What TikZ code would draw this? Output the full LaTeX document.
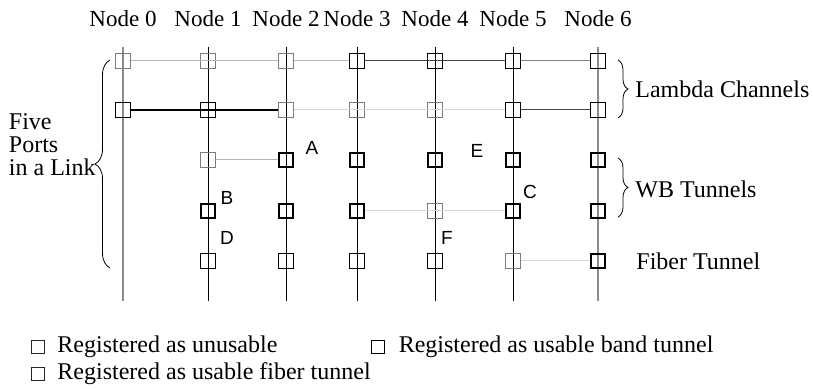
\documentclass[tikz,border=0pt]{standalone}
\usepackage{fontspec}
\setmainfont{Liberation Serif}
\newfontfamily\lblfont{Liberation Sans}
\usetikzlibrary{positioning, decorations.pathreplacing, calc}
\definecolor{PortGray}{RGB}{125,125,125}
\definecolor{LinkFaint}{RGB}{215,215,215}
\definecolor{LinkLight}{RGB}{180,180,180}
\definecolor{LinkDark}{RGB}{70,70,70}

\begin{document}
\begin{tikzpicture}[x=0.5pt, y=-0.5pt,
          port/.style={rectangle, minimum size=7.2pt, inner sep=0pt},
          unus/.style={port, draw=PortGray, line width=0.55pt},
          lam/.style={port, draw=black, line width=0.65pt},
          band/.style={port, draw=black, line width=1.1pt},
          fib/.style={port, draw=black, line width=0.4pt},
          key/.style={port, minimum size=6.6pt, draw=black!85, line width=0.45pt},
          lnk/.style={line width=0.5pt},
          txt/.style={font=\fontsize{12}{11.5}\selectfont, inner sep=0pt},
          tag/.style={font=\lblfont\fontsize{9.5}{11}\selectfont, inner sep=0pt},
          brc/.style={decorate, line width=0.4pt}
        ]
        \useasboundingbox (0,0) rectangle (813,389);

        % node columns
        \foreach \i/\x/\col/\w in {0/123/gray!90/0.75pt, 1/208/black/0.5pt,
            2/286/black/0.5pt, 3/357/black/0.5pt, 4/435/black/0.5pt,
            5/513/black/0.5pt, 6/598/gray!90/0.75pt} {
          \node[font=\fontsize{11.5}{13}\selectfont, inner sep=0pt] (nd\i) at (\x, 19) {Node \i};
          \coordinate (top\i) at (\x, 47);
          \coordinate (bot\i) at (\x, 301);
          \draw[\col, line width=\w] (top\i) -- (bot\i);
        }

        % ports: column/row/state
        \foreach \c/\r/\s in {
          0/1/unus, 1/1/unus, 2/1/unus, 3/1/lam, 4/1/lam, 5/1/lam, 6/1/lam,
          0/2/lam, 1/2/lam, 2/2/unus, 3/2/unus, 4/2/unus, 5/2/lam, 6/2/lam,
          1/3/unus, 2/3/band, 3/3/band, 4/3/band, 5/3/band, 6/3/band,
          1/4/band, 2/4/band, 3/4/band, 4/4/unus, 5/4/band, 6/4/band,
          1/5/fib, 2/5/fib, 3/5/fib, 4/5/fib, 5/5/unus, 6/5/band} {
          \pgfmathsetmacro\yy{{61,110,160,211,261}[\r-1]}
          \node[\s] (p\c-\r) at (top\c |- 0,\yy) {};
        }

        % links between ports
        \draw[lnk, LinkLight] (p0-1) -- (p2-1);
        \draw[lnk, LinkLight] (p2-1) -- (p3-1);
        \draw[lnk, LinkDark] (p3-1) -- (p5-1);
        \draw[lnk, gray] (p5-1) -- (p6-1);
        \draw[black, line width=0.75pt] (p0-2) -- (p2-2);
        \draw[lnk, LinkFaint] (p2-2) -- (p5-2);
        \draw[lnk, LinkDark] (p5-2) -- (p6-2);
        \draw[lnk, LinkLight] (p1-3) -- (p2-3);
        \draw[lnk, LinkFaint] (p3-4) -- (p5-4);
        \draw[lnk, LinkFaint] (p5-5) -- (p6-5);

        % letters
        \node[tag] (la) at (312, 148) {A};
        \node[tag] (lb) at (227, 198) {B};
        \node[tag] (lc) at (530, 192) {C};
        \node[tag] (ld) at (227, 238) {D};
        \node[tag] (le) at (477, 151) {E};
        \node[tag] (lf) at (447, 238) {F};

        % braces
        \coordinate (fpa) at (110, 268);
        \coordinate (fpb) at (110, 60);
        \draw[brc, decoration={brace, amplitude=7.5pt}] (fpa) -- (fpb);
        \node[txt, anchor=east, align=left] (five) at (96, 145) {Five\\Ports\\in a Link};
        \coordinate (lca) at (618, 60);
        \coordinate (lcb) at (618, 118);
        \draw[brc, decoration={brace, amplitude=5pt}] (lca) -- (lcb);
        \node[txt, anchor=west] (lamb) at (635, 89) {Lambda Channels};
        \coordinate (wba) at (618, 158);
        \coordinate (wbb) at (618, 217);
        \draw[brc, decoration={brace, amplitude=5pt}] (wba) -- (wbb);
        \node[txt, anchor=west] (wbt) at (635, 189) {WB Tunnels};
        \node[txt, anchor=west] (fbt) at (636, 261) {Fiber Tunnel};

        % legend
        \node[key] (lg1) at (38, 347) {};
        \node[txt, right=6pt of lg1] (lgt1) {Registered as unusable};
        \node[key, line width=0.8pt, draw=black] (lg2) at (378, 347) {};
        \node[txt, right=6.5pt of lg2] (lgt2) {Registered as usable band tunnel};
        \node[key] (lg3) at (38, 374) {};
        \node[txt, right=6pt of lg3] (lgt3) {Registered as usable fiber tunnel};
      \end{tikzpicture}
\end{document}
